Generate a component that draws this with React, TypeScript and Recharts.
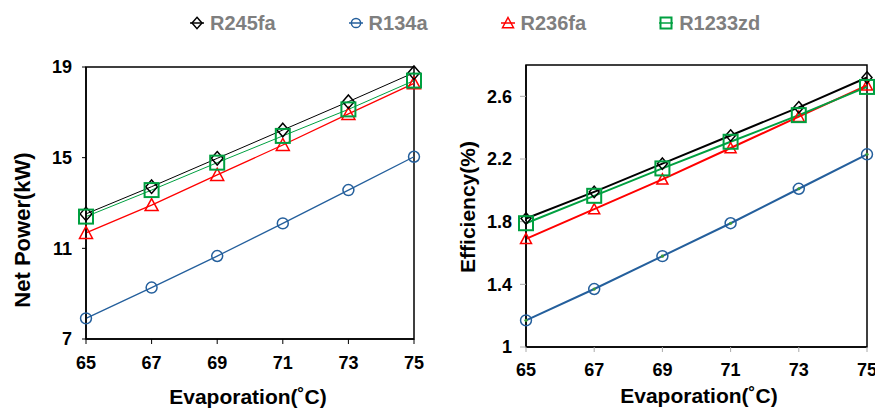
import React from 'react';
import { LineChart, Line, XAxis, YAxis, ReferenceArea } from 'recharts';

const evaporation = [65, 67, 69, 71, 73, 75];
const xTicks = [65, 67, 69, 71, 73, 75];

const powerR245fa = [12.52, 13.72, 14.97, 16.22, 17.47, 18.75];
const powerR134a = [7.91, 9.27, 10.66, 12.1, 13.57, 15.04];
const powerR236fa = [11.68, 12.91, 14.24, 15.56, 16.93, 18.28];
const powerR1233zd = [12.4, 13.57, 14.78, 15.96, 17.13, 18.4];
const powerTicks = [7, 11, 15, 19];

const effR245fa = [1.82, 1.99, 2.17, 2.35, 2.53, 2.72];
const effR134a = [1.17, 1.37, 1.58, 1.79, 2.01, 2.23];
const effR236fa = [1.69, 1.88, 2.07, 2.27, 2.47, 2.67];
const effR1233zd = [1.79, 1.965, 2.14, 2.31, 2.48, 2.66];
const effTicks = [1, 1.4, 1.8, 2.2, 2.6];

const seriesNames = ['R245fa', 'R134a', 'R236fa', 'R1233zd'];
const seriesColors = ['#000000', '#245f9c', '#ff0000', '#00a040'];
const seriesShapes = ['diamond', 'circle', 'triangle', 'square'];

const powerData = evaporation.map((x, i) => ({
  x,
  R245fa: powerR245fa[i],
  R134a: powerR134a[i],
  R236fa: powerR236fa[i],
  R1233zd: powerR1233zd[i],
}));
const effData = evaporation.map((x, i) => ({
  x,
  R245fa: effR245fa[i],
  R134a: effR134a[i],
  R236fa: effR236fa[i],
  R1233zd: effR1233zd[i],
}));

const FONT = '"Liberation Sans", Arial, sans-serif';

type ShapeOpts = { size: number; sw: number; innerDot?: string };

function drawShape(shape: string, color: string, cx: number, cy: number, o: ShapeOpts, key?: string) {
  const s = o.size;
  if (shape === 'diamond') {
    const w = s * 0.45;
    const h = s * 0.52;
    return (
      <polygon key={key} points={`${cx},${cy - h} ${cx + w},${cy} ${cx},${cy + h} ${cx - w},${cy}`} fill="none" stroke={color} strokeWidth={o.sw} />
    );
  }
  if (shape === 'circle') {
    return (
      <g key={key}>
        <circle cx={cx} cy={cy} r={s * 0.42} fill="none" stroke={color} strokeWidth={o.sw} />
        {o.innerDot ? <circle cx={cx} cy={cy} r={1.6} fill={o.innerDot} /> : null}
      </g>
    );
  }
  if (shape === 'triangle') {
    const w = s * 0.5;
    return (
      <polygon key={key} points={`${cx},${cy - w} ${cx + w},${cy + w * 0.85} ${cx - w},${cy + w * 0.85}`} fill="none" stroke={color} strokeWidth={o.sw} />
    );
  }
  const h = s * 0.5;
  return <rect key={key} x={cx - h} y={cy - h} width={2 * h} height={2 * h} fill="none" stroke={color} strokeWidth={o.sw + 0.5} />;
}

function makeDot(shape: string, color: string, o: ShapeOpts) {
  return (props: any) => {
    const { cx, cy, index } = props;
    if (cx == null || cy == null) return <g key={`e-${index}`} />;
    return drawShape(shape, color, cx, cy, o, `d-${shape}-${index}`);
  };
}

const drawOrder = [1, 2, 0, 3];

function Legend() {
  return (
    <div
      style={{
        position: 'absolute',
        left: 190,
        top: 10,
        display: 'flex',
        alignItems: 'center',
        gap: 73,
        fontFamily: FONT,
        fontWeight: 'bold',
        fontSize: 20,
        color: '#7f7f7f',
        lineHeight: '26px',
        whiteSpace: 'nowrap',
      }}
    >
      {seriesNames.map((n, i) => (
        <div key={n} style={{ display: 'flex', alignItems: 'center' }}>
          <svg width={14} height={14} style={{ marginRight: 6 }}>
            <line x1={0} y1={7} x2={14} y2={7} stroke={seriesColors[i]} strokeWidth={1.5} />
            {drawShape(seriesShapes[i], seriesColors[i], 7, 7, { size: 11, sw: 1.5 })}
          </svg>
          <span>{n}</span>
        </div>
      ))}
    </div>
  );
}

function Title({ text, x, y, rotate, size }: { text: string; x: number; y: number; rotate?: boolean; size: number }) {
  return (
    <div
      style={{
        position: 'absolute',
        left: x,
        top: y,
        transform: `translate(-50%, -50%)${rotate ? ' rotate(-90deg)' : ''}`,
        fontFamily: FONT,
        fontWeight: 'bold',
        fontSize: size,
        color: '#000',
        whiteSpace: 'nowrap',
        lineHeight: 1,
      }}
    >
      {text}
    </div>
  );
}

const tickStyle = { fontFamily: FONT, fontWeight: 'bold' as const, fontSize: 18, fill: '#000' };

export default function App() {
  return (
    <div style={{ position: 'absolute', left: 0, top: 0, width: 875, height: 410, background: '#fff', overflow: 'hidden' }}>
      <Legend />
      <div style={{ position: 'absolute', left: 0, top: 0 }}>
        <LineChart width={440} height={410} data={powerData} margin={{ top: 67, right: 26, bottom: 41, left: 0 }}>
          <XAxis
            dataKey="x"
            type="number"
            domain={[65, 75]}
            ticks={xTicks}
            interval={0}
            tick={tickStyle}
            tickSize={5}
            tickMargin={12}
            height={30}
            axisLine={{ stroke: '#000', strokeWidth: 1.5 }}
            tickLine={{ stroke: '#000', strokeWidth: 1 }}
          />
          <YAxis
            type="number"
            domain={[7, 19]}
            ticks={powerTicks}
            interval={0}
            tick={tickStyle}
            tickSize={4}
            tickMargin={10}
            width={86}
            axisLine={{ stroke: '#000', strokeWidth: 1.5 }}
            tickLine={{ stroke: '#000', strokeWidth: 1 }}
          />
          <ReferenceArea x1={65} x2={75} y1={7} y2={19} fill="none" stroke="#000" strokeWidth={1.5} fillOpacity={0} />
          {drawOrder.map((i) => (
            <Line
              key={seriesNames[i]}
              type="linear"
              dataKey={seriesNames[i]}
              stroke={seriesColors[i]}
              strokeWidth={i === 0 || i === 3 ? 1 : 1.3}
              dot={makeDot(seriesShapes[i], seriesColors[i], { size: seriesShapes[i] === 'square' ? 14 : 13, sw: 1.5 })}
              activeDot={false}
              isAnimationActive={false}
            />
          ))}
        </LineChart>
      </div>
      <div style={{ position: 'absolute', left: 440, top: 0 }}>
        <LineChart width={435} height={410} data={effData} margin={{ top: 65, right: 8, bottom: 33, left: 0 }}>
          <XAxis
            dataKey="x"
            type="number"
            domain={[65, 75]}
            ticks={xTicks}
            interval={0}
            tick={tickStyle}
            tickSize={5}
            tickMargin={11}
            height={30}
            axisLine={{ stroke: '#000', strokeWidth: 1.5 }}
            tickLine={{ stroke: '#aaa', strokeWidth: 1 }}
          />
          <YAxis
            type="number"
            domain={[1, 2.8]}
            ticks={effTicks}
            interval={0}
            tick={tickStyle}
            tickSize={6}
            tickMargin={8}
            width={86}
            axisLine={{ stroke: '#000', strokeWidth: 1.5 }}
            tickLine={{ stroke: '#aaa', strokeWidth: 1 }}
          />
          <ReferenceArea x1={65} x2={75} y1={1} y2={2.8} fill="none" stroke="#000" strokeWidth={1.5} fillOpacity={0} />
          {drawOrder.map((i) => (
            <Line
              key={seriesNames[i]}
              type="linear"
              dataKey={seriesNames[i]}
              stroke={seriesColors[i]}
              strokeWidth={2}
              dot={makeDot(seriesShapes[i], seriesColors[i], {
                size: seriesShapes[i] === 'square' ? 14 : seriesShapes[i] === 'circle' ? 13 : 11,
                sw: 1.5,
                innerDot: seriesShapes[i] === 'circle' ? '#3a9a3a' : undefined,
              })}
              activeDot={false}
              isAnimationActive={false}
            />
          ))}
        </LineChart>
      </div>
      <Title text="Net Power(kW)" x={23} y={230} rotate size={22} />
      <Title text="Evaporation(˚C)" x={248} y={396} size={21} />
      <Title text="Efficiency(%)" x={467} y={207} rotate size={21} />
      <Title text="Evaporation(˚C)" x={699} y={395} size={21} />
    </div>
  );
}
